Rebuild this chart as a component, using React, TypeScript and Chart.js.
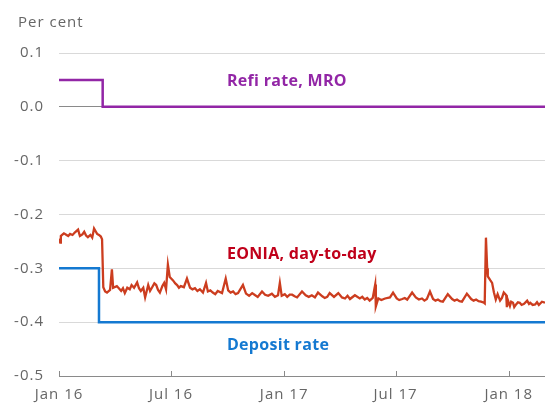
import React, { useEffect, useRef } from "react";
import { Chart, registerables } from "chart.js";

Chart.register(...registerables);

// ---------- data ----------
const xTickDates = ["2016-01-01", "2016-07-01", "2017-01-01", "2017-07-01", "2018-01-01"];
const xTickLabels = ["Jan 16", "Jul 16", "Jan 17", "Jul 17", "Jan 18"];
const xMinDate = "2016-01-01";
const xMaxDate = "2018-03-01";

const mroDates = ["2016-01-01", "2016-03-12", "2016-03-12", "2018-03-01"];
const mroValues = [0.05, 0.05, 0.0, 0.0];

const depositDates = ["2016-01-01", "2016-03-06", "2016-03-06", "2018-03-01"];
const depositValues = [-0.3, -0.3, -0.4, -0.4];

const eoniaDates = [
  "2016-01-01", "2016-01-03", "2016-01-04", "2016-01-06", "2016-01-09", "2016-01-12", "2016-01-16", "2016-01-19", "2016-01-23", "2016-01-27", "2016-02-01", "2016-02-04",
  "2016-02-08", "2016-02-11", "2016-02-14", "2016-02-17", "2016-02-21", "2016-02-24", "2016-02-27", "2016-03-01", "2016-03-03", "2016-03-06", "2016-03-09", "2016-03-11", "2016-03-13",
  "2016-03-16", "2016-03-19", "2016-03-24", "2016-03-27", "2016-03-29", "2016-04-04", "2016-04-08", "2016-04-11", "2016-04-14", "2016-04-17",
  "2016-04-21", "2016-04-25", "2016-04-28", "2016-05-02", "2016-05-07", "2016-05-10", "2016-05-13", "2016-05-17", "2016-05-20", "2016-05-25", "2016-05-28", "2016-05-31", "2016-06-04", "2016-06-07",
  "2016-06-10", "2016-06-13", "2016-06-17", "2016-06-20", "2016-06-23", "2016-06-26", "2016-06-29", "2016-07-04", "2016-07-08", "2016-07-11", "2016-07-14", "2016-07-17",
  "2016-07-22", "2016-07-27", "2016-08-01", "2016-08-05", "2016-08-09", "2016-08-13", "2016-08-17", "2016-08-22", "2016-08-27", "2016-08-30",
  "2016-09-03", "2016-09-07", "2016-09-11", "2016-09-15", "2016-09-22", "2016-09-28", "2016-10-02", "2016-10-06", "2016-10-10", "2016-10-14", "2016-10-18", "2016-10-26",
  "2016-10-31", "2016-11-05", "2016-11-10", "2016-11-15", "2016-11-19", "2016-11-26", "2016-12-01", "2016-12-06", "2016-12-12", "2016-12-17", "2016-12-22", "2016-12-25",
  "2016-12-28", "2017-01-02", "2017-01-06", "2017-01-10", "2017-01-14", "2017-01-18", "2017-01-22", "2017-01-30", "2017-02-05", "2017-02-10", "2017-02-15", "2017-02-20", "2017-02-25",
  "2017-03-04", "2017-03-08", "2017-03-12", "2017-03-16", "2017-03-23", "2017-03-30", "2017-04-05", "2017-04-10", "2017-04-14", "2017-04-18", "2017-04-26",
  "2017-05-04", "2017-05-08", "2017-05-12", "2017-05-16", "2017-05-20", "2017-05-25", "2017-05-29", "2017-05-30", "2017-06-03", "2017-06-08", "2017-06-14",
  "2017-06-22", "2017-06-27", "2017-07-03", "2017-07-07", "2017-07-12", "2017-07-16", "2017-07-20", "2017-07-28", "2017-08-03", "2017-08-08", "2017-08-13",
  "2017-08-17", "2017-08-21", "2017-08-26", "2017-08-31", "2017-09-04", "2017-09-08", "2017-09-12", "2017-09-16", "2017-09-24", "2017-10-01", "2017-10-05", "2017-10-09",
  "2017-10-13", "2017-10-17", "2017-10-25", "2017-11-01", "2017-11-05", "2017-11-09", "2017-11-13", "2017-11-17", "2017-11-22", "2017-11-23", "2017-11-25",
  "2017-11-27", "2017-11-28", "2017-12-02", "2017-12-05", "2017-12-08", "2017-12-11", "2017-12-14", "2017-12-18", "2017-12-21",
  "2017-12-24", "2017-12-28", "2017-12-29", "2017-12-31", "2018-01-03", "2018-01-05", "2018-01-08", "2018-01-10", "2018-01-13", "2018-01-16", "2018-01-19",
  "2018-01-22", "2018-01-26", "2018-01-31", "2018-02-03", "2018-02-05", "2018-02-09", "2018-02-13", "2018-02-16", "2018-02-19", "2018-02-24", "2018-03-01",
];
const eoniaValues = [
  -0.245, -0.252, -0.24, -0.238, -0.235, -0.237, -0.24, -0.236, -0.238, -0.233, -0.228, -0.24,
  -0.237, -0.232, -0.239, -0.242, -0.238, -0.243, -0.226, -0.232, -0.236, -0.238, -0.241, -0.246, -0.335,
  -0.343, -0.345, -0.34, -0.302, -0.336, -0.333, -0.338, -0.342, -0.337, -0.346,
  -0.336, -0.339, -0.331, -0.336, -0.326, -0.337, -0.342, -0.336, -0.354, -0.331, -0.342, -0.336, -0.328, -0.331,
  -0.34, -0.345, -0.333, -0.327, -0.339, -0.293, -0.316, -0.322, -0.328, -0.331, -0.336, -0.333,
  -0.335, -0.319, -0.336, -0.339, -0.337, -0.342, -0.339, -0.345, -0.327, -0.343,
  -0.341, -0.345, -0.348, -0.342, -0.346, -0.319, -0.341, -0.345, -0.343, -0.348, -0.346, -0.331,
  -0.347, -0.351, -0.346, -0.35, -0.353, -0.343, -0.349, -0.351, -0.347, -0.353, -0.35, -0.327,
  -0.351, -0.348, -0.353, -0.349, -0.349, -0.352, -0.354, -0.343, -0.35, -0.353, -0.35, -0.354, -0.345,
  -0.352, -0.355, -0.353, -0.346, -0.353, -0.346, -0.354, -0.356, -0.351, -0.357, -0.35,
  -0.356, -0.353, -0.358, -0.355, -0.36, -0.355, -0.33, -0.371, -0.356, -0.359, -0.356,
  -0.354, -0.345, -0.356, -0.359, -0.357, -0.355, -0.358, -0.345, -0.354, -0.358, -0.356,
  -0.36, -0.357, -0.343, -0.357, -0.36, -0.358, -0.361, -0.362, -0.348, -0.357, -0.36, -0.358,
  -0.361, -0.362, -0.347, -0.357, -0.36, -0.358, -0.361, -0.362, -0.364, -0.365, -0.243,
  -0.3, -0.315, -0.322, -0.327, -0.345, -0.358, -0.348, -0.36, -0.355,
  -0.345, -0.35, -0.372, -0.36, -0.37, -0.362, -0.364, -0.372, -0.367, -0.363, -0.364,
  -0.368, -0.366, -0.36, -0.366, -0.364, -0.368, -0.367, -0.363, -0.368, -0.362, -0.364,
];

const seriesNames = ["Refi rate, MRO", "EONIA, day-to-day", "Deposit rate"];
const yTickValues = [0.1, 0.0, -0.1, -0.2, -0.3, -0.4, -0.5];
const unitLabel = "Per cent";

// ---------- helpers ----------
const dayOf = (s: string) => {
  const [y, m, d] = s.split("-").map(Number);
  return (Date.UTC(y, m - 1, d) - Date.UTC(2016, 0, 1)) / 86400000;
};
const toPoints = (dates: string[], values: number[]) =>
  dates.map((d, i) => ({ x: dayOf(d), y: values[i] }));

const FONT = "'Open Sans', 'Noto Sans', sans-serif";
const MRO_COLOR = "#9226a6";
const EONIA_COLOR = "#cc3d1f";
const EONIA_TEXT = "#c0001a";
const DEPOSIT_COLOR = "#1479d1";

// label anchor (left aligned, vertically centred) in data coordinates
const labelAnchorDate = "2016-09-30";
const labelAnchorValues = [0.048, -0.275, -0.443];
const labelColors = [MRO_COLOR, EONIA_TEXT, DEPOSIT_COLOR];

const spacingPlugin = {
  id: "spacing",
  beforeDraw(chart: any) {
    (chart.ctx as any).letterSpacing = "1px";
  },
};

const overlayPlugin = {
  id: "overlay",
  afterDraw(chart: any) {
    const { ctx, scales, chartArea } = chart;
    const xs = scales.x;
    const ys = scales.y;
    ctx.save();
    // upward tick marks on x axis
    ctx.strokeStyle = "#8a8a8a";
    ctx.lineWidth = 1;
    xTickDates.forEach((d) => {
      const px = Math.round(xs.getPixelForValue(dayOf(d))) + 0.5;
      ctx.beginPath();
      ctx.moveTo(px, chartArea.bottom);
      ctx.lineTo(px, chartArea.bottom - 5);
      ctx.stroke();
    });
    // unit label
    (ctx as any).letterSpacing = "1px";
    ctx.fillStyle = "#666666";
    ctx.font = `15px ${FONT}`;
    ctx.textAlign = "left";
    ctx.textBaseline = "alphabetic";
    ctx.fillText(unitLabel, 18, 27);
    // series labels
    (ctx as any).letterSpacing = "0.3px";
    ctx.font = `bold 16px ${FONT}`;
    ctx.textBaseline = "middle";
    seriesNames.forEach((name, i) => {
      ctx.fillStyle = labelColors[i];
      ctx.fillText(
        name,
        xs.getPixelForValue(dayOf(labelAnchorDate)),
        ys.getPixelForValue(labelAnchorValues[i])
      );
    });
    ctx.restore();
  },
};

export default function App() {
  const ref = useRef<HTMLCanvasElement | null>(null);

  useEffect(() => {
    document.body.style.margin = "0";
    if (!ref.current) return;
    const chart = new Chart(ref.current, {
      type: "line",
      data: {
        datasets: [
          {
            label: seriesNames[1],
            data: toPoints(eoniaDates, eoniaValues),
            borderColor: EONIA_COLOR,
            borderWidth: 2.3,
            pointRadius: 0,
            tension: 0,
          },
          {
            label: seriesNames[2],
            data: toPoints(depositDates, depositValues),
            borderColor: DEPOSIT_COLOR,
            borderWidth: 2.5,
            pointRadius: 0,
          },
          {
            label: seriesNames[0],
            data: toPoints(mroDates, mroValues),
            borderColor: MRO_COLOR,
            borderWidth: 2.5,
            pointRadius: 0,
          },
        ],
      },
      options: {
        responsive: false,
        animation: false,
        layout: { padding: { top: 53, right: 0, left: 0, bottom: 0 } },
        plugins: {
          legend: { display: false },
          tooltip: { enabled: false },
          title: { display: false },
        },
        scales: {
          x: {
            type: "linear",
            min: dayOf(xMinDate),
            max: dayOf(xMaxDate),
            afterBuildTicks: (scale: any) => {
              scale.ticks = xTickDates.map((d) => ({ value: dayOf(d) }));
            },
            afterFit: (scale: any) => {
              scale.height = 30;
            },
            ticks: {
              autoSkip: false,
              maxRotation: 0,
              padding: 10,
              color: "#666666",
              font: { family: FONT, size: 15 },
              callback: (v: any) => {
                const i = xTickDates.findIndex((d) => dayOf(d) === v);
                return i >= 0 ? xTickLabels[i] : "";
              },
            },
            grid: { display: false, drawTicks: false },
            border: { display: true, color: "#8a8a8a", width: 1 },
          },
          y: {
            min: -0.5,
            max: 0.1,
            afterBuildTicks: (scale: any) => {
              scale.ticks = yTickValues.map((v) => ({ value: v }));
            },
            afterFit: (scale: any) => {
              scale.width = 59;
            },
            ticks: {
              padding: 15,
              color: "#666666",
              font: { family: FONT, size: 15 },
              callback: (v: any) => Number(v).toFixed(1),
            },
            grid: {
              drawTicks: false,
              color: (c: any) =>
                c.tick && Math.abs(c.tick.value) < 1e-9 ? "#8a8a8a" : "#d9d9d9",
              lineWidth: 1,
            },
            border: { display: false },
          },
        },
      },
      plugins: [spacingPlugin, overlayPlugin],
    });
    return () => chart.destroy();
  }, []);

  return (
    <div style={{ width: 545, height: 406 }}>
      <canvas ref={ref} width={545} height={406} />
    </div>
  );
}
